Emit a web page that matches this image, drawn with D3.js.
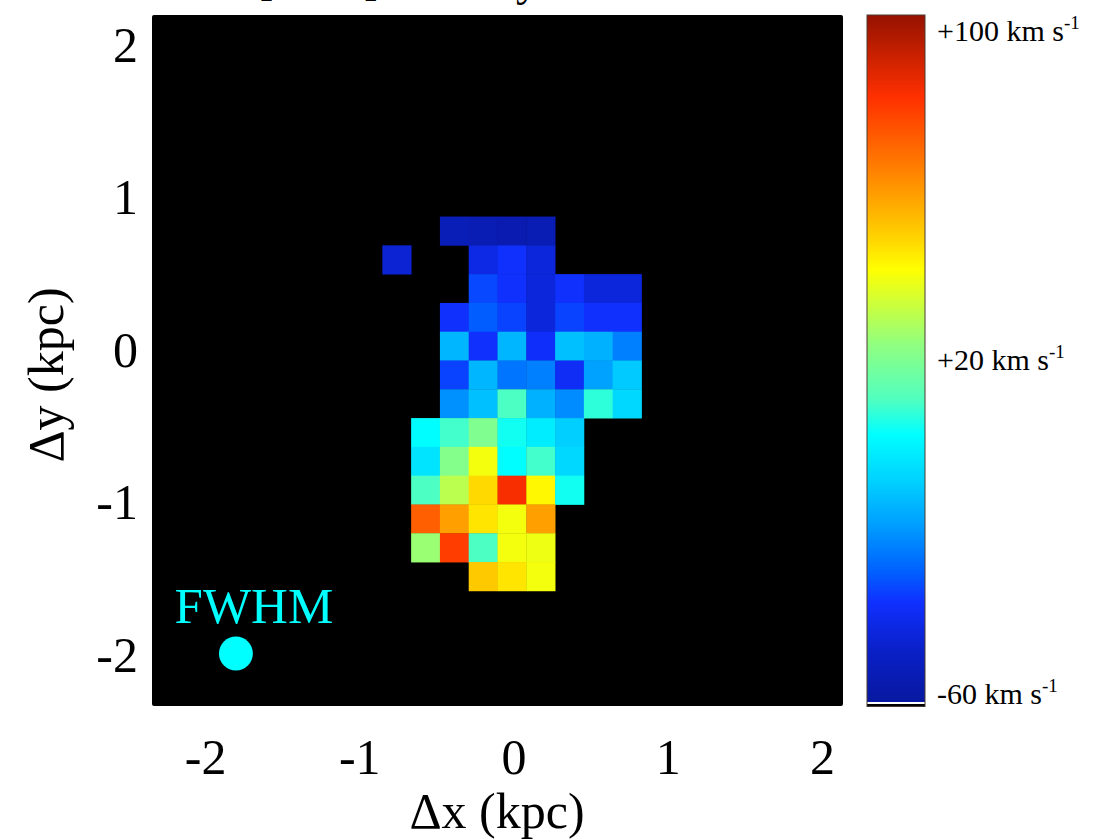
<!DOCTYPE html>
<html>
<head>
<meta charset="utf-8">
<script src="https://cdn.jsdelivr.net/npm/d3@7"></script>
<style>
  html, body { margin: 0; padding: 0; background: #fff; }
  svg { display: block; }
  text { font-family: "Liberation Serif", "Times New Roman", serif; }
</style>
</head>
<body>
<svg id="chart" width="1100" height="840"></svg>
<script>
// Sky extent of the 24x24 velocity map (kpc)
const mapExtentX = [-2.344, 2.136];
const mapExtentY = [-2.334, 2.197];
const gridSize = 24;

// Velocity map block (km/s), first row is grid row 7 (from top), first column is grid column 8
const blockRow0 = 7;
const blockCol0 = 8;
const velocityRows = [
  [null, null, -53, -54, -55, -54, null, null, null],
  [-46, null, null, -42, -37, -44, null, null, null],
  [null, null, null, -33, -37, -44, -37, -44, -44],
  [null, null, -37, -30, -34, -44, -34, -37, -37],
  [null, null, -14, -37, -14, -38, -12, -15, -24],
  [null, null, -34, -14, -26, -24, -39, -18, -10],
  [null, null, -21, -12, 10, -15, -22, 7, -7],
  [null, 2, 9, 20, 4, -2, -9, null, null],
  [null, -4, 21, 39, 2, 9, -7, null, null],
  [null, 10, 30, 47, 82, 42, 4, null, null],
  [null, 71, 58, 45, 39, 58, null, null, null],
  [null, 25, 78, 10, 39, 38, null, null, null],
  [null, null, null, 50, 45, 39, null, null, null]
];

// Axis ticks
const xTicks = [-2, -1, 0, 1, 2];
const yTicks = [-2, -1, 0, 1, 2];

// Colour bar range and labels (km/s)
const velocityRange = [-60, 100];
const colorbarLabels = [100, 20, -60];

// Beam (FWHM) marker: centre and diameter in kpc
const beamCenter = [-1.80, -1.99];
const beamFWHM = 0.22;

// Colour table stops (km/s -> colour)
const cmapVelocities = [-60, -48, -36.8, -29.6, -18.4, -8.8, 2.4, 10.4, 23.2, 32, 40.8, 47.2, 64, 80.8, 100];
const cmapColors = ["#0818a0", "#0a20c8", "#1030ff", "#0060ff", "#00a0ff", "#00d0ff", "#00ffff",
                    "#50ffc0", "#90ff80", "#c8ff40", "#ffff00", "#ffd800", "#ff8000", "#ff3000", "#951200"];

const svg = d3.select("#chart");
const plot = { left: 152, right: 843, top: 15, bottom: 706 };

const x = d3.scaleLinear().domain(mapExtentX).range([plot.left, plot.right]);
const y = d3.scaleLinear().domain(mapExtentY).range([plot.bottom, plot.top]);
const color = d3.scaleLinear().domain(cmapVelocities).range(cmapColors).clamp(true);

const cellW = (mapExtentX[1] - mapExtentX[0]) / gridSize;
const cellH = (mapExtentY[1] - mapExtentY[0]) / gridSize;

// Title (sits above the page edge)
svg.append("text")
  .attr("x", 258).attr("y", -5)
  .attr("font-size", 46)
  .attr("fill", "#000")
  .text("[O III] velocity");

// Black map background
svg.append("rect")
  .attr("x", x(mapExtentX[0])).attr("y", y(mapExtentY[1]))
  .attr("width", x(mapExtentX[1]) - x(mapExtentX[0]))
  .attr("height", y(mapExtentY[0]) - y(mapExtentY[1]))
  .attr("rx", 2)
  .attr("fill", "#000");

// Velocity pixels
const cells = [];
velocityRows.forEach((row, i) => {
  row.forEach((v, j) => {
    if (v === null) return;
    const r = blockRow0 + i, c = blockCol0 + j;
    cells.push({
      x0: mapExtentX[0] + c * cellW,
      y1: mapExtentY[1] - r * cellH,
      v
    });
  });
});

svg.append("g").selectAll("rect")
  .data(cells)
  .join("rect")
  .attr("x", d => x(d.x0))
  .attr("y", d => y(d.y1))
  .attr("width", d => x(d.x0 + cellW) - x(d.x0) + 0.4)
  .attr("height", d => y(d.y1 - cellH) - y(d.y1) + 0.4)
  .attr("fill", d => color(d.v));

// Beam marker
svg.append("circle")
  .attr("cx", x(beamCenter[0])).attr("cy", y(beamCenter[1]))
  .attr("r", x(beamFWHM / 2) - x(0))
  .attr("fill", "#00ffff");

svg.append("text")
  .attr("x", x(beamCenter[0]) + 18).attr("y", 623)
  .attr("text-anchor", "middle")
  .attr("font-size", 51)
  .attr("fill", "#00ffff")
  .text("FWHM");

// Axes
const fmt = d => String(d);
const xAxis = svg.append("g")
  .attr("transform", `translate(0,${plot.bottom})`)
  .call(d3.axisBottom(x).tickValues(xTicks).tickSize(0).tickPadding(32).tickFormat(fmt));
xAxis.select(".domain").remove();
xAxis.selectAll("text")
  .attr("font-family", "Liberation Serif, serif")
  .attr("font-size", 50)
  .attr("fill", "#000");

const yAxis = svg.append("g")
  .attr("transform", `translate(${plot.left},0)`)
  .call(d3.axisLeft(y).tickValues(yTicks).tickSize(0).tickPadding(14).tickFormat(fmt));
yAxis.select(".domain").remove();
yAxis.selectAll("text")
  .attr("font-family", "Liberation Serif, serif")
  .attr("font-size", 50)
  .attr("fill", "#000");

svg.append("text")
  .attr("x", 497).attr("y", 828)
  .attr("text-anchor", "middle")
  .attr("font-size", 50)
  .text("Δx (kpc)");

svg.append("text")
  .attr("transform", "translate(63,375) rotate(-90)")
  .attr("text-anchor", "middle")
  .attr("font-size", 50)
  .text("Δy (kpc)");

// Colour bar
const cb = { x: 867, w: 58, top: 15, bottom: 702 };
const cbScale = d3.scaleLinear().domain(velocityRange).range([cb.bottom, cb.top]);
const steps = d3.range(cb.top, cb.bottom, 1);
svg.append("g").selectAll("rect")
  .data(steps)
  .join("rect")
  .attr("x", cb.x).attr("y", d => d)
  .attr("width", cb.w).attr("height", 1.2)
  .attr("fill", d => color(cbScale.invert(d + 0.5)));

svg.append("rect")
  .attr("x", cb.x).attr("y", cb.bottom)
  .attr("width", cb.w).attr("height", 2)
  .attr("fill", "#fff");
svg.append("rect")
  .attr("x", cb.x).attr("y", cb.bottom + 2)
  .attr("width", cb.w).attr("height", 2.5)
  .attr("fill", "#000");
svg.append("rect")
  .attr("x", cb.x).attr("y", cb.top)
  .attr("width", cb.w).attr("height", cb.bottom + 4.5 - cb.top)
  .attr("fill", "none")
  .attr("stroke", "#4a3a30")
  .attr("stroke-width", 1);

const labelG = svg.append("g").selectAll("text")
  .data(colorbarLabels)
  .join("text")
  .attr("x", 937)
  .attr("y", d => Math.min(Math.max(cbScale(d), 30), 693) + 11)
  .attr("font-size", 30)
  .attr("fill", "#000");
labelG.append("tspan").text(d => (d > 0 ? "+" : "") + d + " km s");
labelG.append("tspan").attr("font-size", 19).attr("dy", -12).text("-1");
</script>
</body>
</html>
